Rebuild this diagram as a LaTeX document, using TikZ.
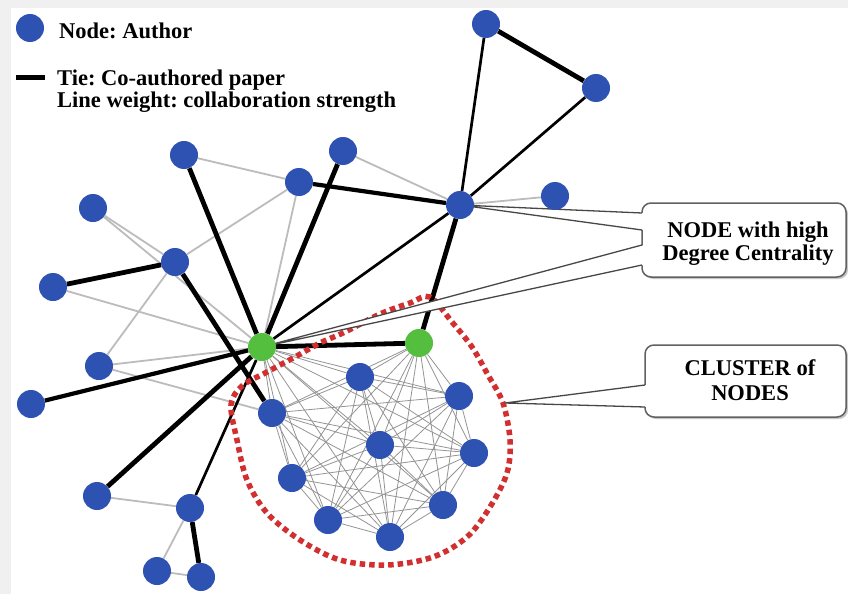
\documentclass[tikz,border=0pt]{standalone}
\usepackage{fontspec}
\setmainfont{Liberation Serif}
\frenchspacing
\definecolor{nblue}{RGB}{46,82,178}
\definecolor{ngreen}{RGB}{84,190,62}
\definecolor{lgray}{RGB}{188,188,188}
\definecolor{cred}{RGB}{210,48,48}
\pgfdeclarelayer{back}
\pgfdeclarelayer{edges}
\pgfsetlayers{back,edges,main}
\begin{document}
\begin{tikzpicture}[x=1pt,y=-1pt,
  au/.style={circle,fill=nblue,minimum size=28pt,inner sep=0pt},
  hubnode/.style={circle,fill=ngreen,minimum size=28pt,inner sep=0pt},
  lite/.style={draw=lgray,line width=1.8pt},
  clq/.style={draw=black!42,line width=0.8pt},
  heavy/.style={draw=black,line width=4.8pt},
  midw/.style={draw=black,line width=2.7pt},
  reddots/.style={draw=cred,line width=5.5pt,dash pattern=on 5.5pt off 4pt},
  callbox/.style={fill=white,draw=black!62,line width=1.5pt,rounded corners=9pt},
  boxshadow/.style={fill=black!22,rounded corners=9pt},
  wedgeline/.style={draw=black!72,line width=1.3pt},
  lab/.style={font=\fontsize{22.5}{23}\selectfont\bfseries,inner sep=0pt}
]
\useasboundingbox (0,0) rectangle (848,594);
\begin{pgfonlayer}{back}
  \fill[black!6] (0,0) rectangle (848,594);
  \fill[white] (11,8) rectangle (848,594);
\end{pgfonlayer}

% nodes
\node[au] (A1) at (486,24) {};
\node[au] (A2) at (596,88) {};
\node[au] (H)  at (460,205) {};
\node[au] (A3) at (555,196) {};
\node[au] (B1) at (184,155) {};
\node[au] (B2) at (343,151) {};
\node[au] (B3) at (299,182) {};
\node[au] (B4) at (93,208) {};
\node[au] (B5) at (175,262) {};
\node[au] (B6) at (53,287) {};
\node[au] (B7) at (99,366) {};
\node[au] (B8) at (31,404) {};
\node[hubnode] (G1) at (262,347) {};
\node[hubnode] (G2) at (419,343) {};
\node[au] (C1) at (360,377) {};
\node[au] (C2) at (459,396) {};
\node[au] (C3) at (272,413) {};
\node[au] (C4) at (380,445) {};
\node[au] (C5) at (474,453) {};
\node[au] (C6) at (292,478) {};
\node[au] (C7) at (443,505) {};
\node[au] (C8) at (328,520) {};
\node[au] (C9) at (390,537) {};
\node[au] (D1) at (97,496) {};
\node[au] (D2) at (190,508) {};
\node[au] (D3) at (157,571) {};
\node[au] (D4) at (201,577) {};
\coordinate (ctip) at (505,403);

% legend
\node[au] (L) at (30,28) {};
\node[lab,anchor=base west] (Ltext) at (59,38) {Node: Author};
\coordinate (t1) at (16,77);
\coordinate (t2) at (45,77);
\node[lab,anchor=base west] (Ttext1) at (57,85) {Tie: Co-authored paper};
\node[lab,anchor=base west] (Ttext2) at (57,107) {Line weight: collaboration strength};
\draw[line width=5pt] (t1) -- (t2);

% callout texts
\node[lab,align=center] (N1) at (748,243.5) {NODE with high\\Degree Centrality};
\node[lab,align=center,font=\fontsize{22.5}{25}\selectfont\bfseries] (N2) at (750,380) {CLUSTER of\\NODES};

\begin{pgfonlayer}{edges}
  % light ties
  \foreach \a/\b in {B1/B3,B3/B5,B3/G1,B4/B5,B4/G1,B6/G1,B5/B7,B7/G1,B7/C3,B2/H,H/A3,D1/D2,D2/D3,D3/D4}
    \draw[lite] (\a) -- (\b);
  % cluster clique
  \foreach \i in {1,...,9}{
    \foreach \j in {1,...,9}{
      \ifnum\i<\j \draw[clq] (C\i) -- (C\j);\fi
    }
    \draw[clq] (G1) -- (C\i);
    \draw[clq] (G2) -- (C\i);
  }
  % strong ties
  \foreach \a/\b in {A1/A2,H/G2,B1/G1,B2/G1,B5/B6,B5/C3,G1/D1,D2/D4,G1/G2}
    \draw[heavy] (\a) -- (\b);
  \draw[heavy,line width=4.2pt] (B3) -- (H);
  \draw[heavy,line width=4.2pt] (B8) -- (G1);
  \foreach \a/\b in {A1/H,A2/H,G1/H,G1/D2}
    \draw[midw] (\a) -- (\b);
  % cluster boundary
  \draw[reddots] plot[smooth cycle,tension=0.55] coordinates{
    (430,297) (452,322) (472,347) (488,375) (503,403) (510,440) (507,473)
    (490,507) (467,537) (433,557) (387,565) (340,560) (300,540) (267,513)
    (247,480) (237,440) (231,405) (242,386) (267,372) (295,357) (320,343)
    (345,332) (380,314) (410,303)};
  % callout 1
  \fill[boxshadow] (644,205) rectangle (848,279);
  \draw[callbox] (642,203) rectangle (846,277);
  \fill[white] (H.center) -- (644,213) -- (644,230) -- cycle;
  \draw[wedgeline] (642,213) -- (H.center) -- (642,230);
  \fill[white] (G1.center) -- (644,245) -- (644,265) -- cycle;
  \draw[wedgeline] (642,245) -- (G1.center) -- (642,265);
  % callout 2
  \fill[boxshadow] (647,347) rectangle (848,419);
  \draw[callbox] (645,345) rectangle (846,417);
  \fill[white] (ctip) -- (647,385) -- (647,407) -- cycle;
  \draw[wedgeline] (645,385) -- (ctip) -- (645,407);
\end{pgfonlayer}
\end{tikzpicture}
\end{document}
